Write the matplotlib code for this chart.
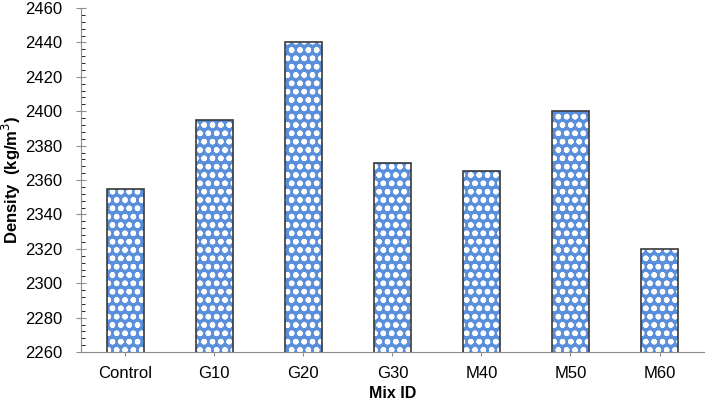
import matplotlib
matplotlib.use("Agg")
from matplotlib import pyplot as plt
from matplotlib.ticker import MultipleLocator
import numpy as np

plt.rcParams['font.family'] = ['Liberation Sans', 'DejaVu Sans']
plt.rcParams['hatch.linewidth'] = 1.6

mixes = ['Control', 'G10', 'G20', 'G30', 'M40', 'M50', 'M60']
density = [2355, 2395, 2440, 2370, 2365, 2400, 2320]

fig = plt.figure(figsize=(7.09, 4.01), dpi=100)
ax = fig.add_axes([0.114, 0.122, 0.879, 0.858])

x = np.arange(len(mixes))
# patterned fill, then the outline on top
ax.bar(x, density, width=0.41, color='#5a8fdc', edgecolor='white',
       hatch='oo', linewidth=0, zorder=2)
ax.bar(x, density, width=0.41, fill=False, edgecolor='#3a3a3a',
       linewidth=1.2, zorder=3)

ax.set_xlim(-0.5, 6.5)
ax.set_ylim(2260, 2460)
ax.yaxis.set_major_locator(MultipleLocator(20))
ax.yaxis.set_minor_locator(MultipleLocator(4))
ax.set_xticks(x)
ax.set_xticklabels(mixes)

for s in ['top', 'right']:
  ax.spines[s].set_visible(False)
for s in ['left', 'bottom']:
  ax.spines[s].set_color('#8c8c8c')
ax.tick_params(axis='both', colors='#8c8c8c', labelcolor='black', labelsize=12)
ax.tick_params(axis='y', which='major', direction='inout', length=7, pad=10)
ax.tick_params(axis='y', which='minor', direction='in', length=3)
ax.tick_params(axis='x', direction='out', length=3, pad=7)

ax.set_xlabel('Mix ID', fontsize=11.5, fontweight='bold')
ax.set_ylabel('Density  (kg/m$^3$)', fontsize=12, fontweight='bold')
ax.xaxis.set_label_coords(0.5, -0.1)
ax.yaxis.set_label_coords(-0.093, 0.5)

plt.savefig('out.png', dpi=100)
